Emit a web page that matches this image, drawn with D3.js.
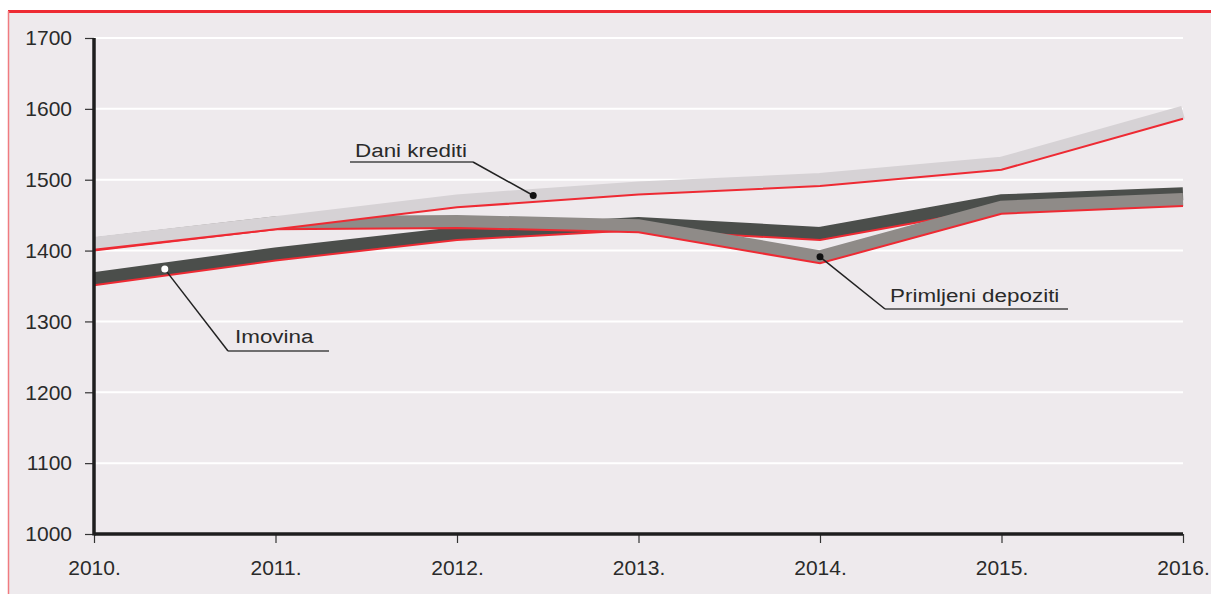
<!DOCTYPE html>
<html>
<head>
<meta charset="utf-8">
<script src="https://cdn.jsdelivr.net/npm/d3@7"></script>
<style>
  html, body { margin: 0; padding: 0; background: #ffffff; }
  svg { display: block; }
  text { font-family: "Liberation Sans", Arial, Helvetica, sans-serif; fill: #2a2a2a; }
</style>
</head>
<body>
<svg id="chart" width="1211" height="594"></svg>
<script>
// ---- data ----
const years = ["2010.", "2011.", "2012.", "2013.", "2014.", "2015.", "2016."];
const yTicks = [1000, 1100, 1200, 1300, 1400, 1500, 1600, 1700];
const imovina = [1351, 1386, 1415, 1429, 1415, 1461, 1471];
const primljeniDepoziti = [1400, 1430, 1432, 1426, 1382, 1452, 1463];
const daniKrediti = [1401, 1430, 1461, 1479, 1491, 1514, 1586];
const seriesNames = ["Imovina", "Primljeni depoziti", "Dani krediti"];

// ---- layout ----
const W = 1211, H = 594;
const margin = { left: 94, right: 28, top: 38, bottom: 60 };
const svg = d3.select("#chart");

// background panel with red frame
svg.append("rect").attr("x", 8).attr("y", 11).attr("width", W - 8).attr("height", H - 11).attr("fill", "#EEEAED");
svg.append("line").attr("x1", 8).attr("x2", W).attr("y1", 11.5).attr("y2", 11.5).attr("stroke", "#EE2A33").attr("stroke-width", 3);
svg.append("line").attr("x1", 8.5).attr("x2", 8.5).attr("y1", 11).attr("y2", H).attr("stroke", "#F07B80").attr("stroke-width", 1.5);

const x = d3.scalePoint().domain(years).range([margin.left, W - margin.right]);
const y = d3.scaleLinear().domain([1000, 1700]).range([H - margin.bottom, margin.top]);

// grid
svg.append("g").selectAll("line").data(yTicks.filter(d => d > 1000)).join("line")
  .attr("x1", margin.left).attr("x2", W - margin.right)
  .attr("y1", d => y(d)).attr("y2", d => y(d))
  .attr("stroke", "#ffffff").attr("stroke-width", 2);

// series bands
const bandW = 13;
const series = [
  { name: seriesNames[0], values: imovina, color: "#4B4E4B" },
  { name: seriesNames[1], values: primljeniDepoziti, color: "#8F8B88" },
  { name: seriesNames[2], values: daniKrediti, color: "#D6D2D5" }
];
const line = d3.line().x((d, i) => x(years[i])).y(d => y(d));
series.forEach(s => {
  const g = svg.append("g");
  g.append("path").datum(s.values)
    .attr("d", line)
    .attr("transform", `translate(0,${-bandW / 2})`)
    .attr("fill", "none").attr("stroke", s.color)
    .attr("stroke-width", bandW).attr("stroke-linejoin", "miter").attr("stroke-linecap", "butt");
  g.append("path").datum(s.values)
    .attr("d", line)
    .attr("fill", "none").attr("stroke", "#EE2A33").attr("stroke-width", 2);
});

// axes
const yAxis = d3.axisLeft(y).tickValues(yTicks).tickSize(9).tickFormat(d3.format("d"));
const gy = svg.append("g").attr("transform", `translate(${margin.left},0)`).call(yAxis);
gy.select(".domain").remove();
gy.selectAll(".tick line").attr("stroke", "#333").attr("stroke-width", 1.2);
gy.selectAll(".tick text").attr("x", -22).attr("font-size", 21).attr("fill", "#2a2a2a")
  .style("font-family", "'Liberation Sans', Arial, sans-serif");

const xAxis = d3.axisBottom(x).tickSize(9);
const gx = svg.append("g").attr("transform", `translate(0,${H - margin.bottom})`).call(xAxis);
gx.select(".domain").remove();
gx.selectAll(".tick line").attr("stroke", "#333").attr("stroke-width", 1.2);
gx.selectAll(".tick text").attr("y", 26).attr("dy", "0.71em").attr("font-size", 21).attr("fill", "#2a2a2a")
  .style("font-family", "'Liberation Sans', Arial, sans-serif");

svg.append("line").attr("x1", margin.left).attr("x2", margin.left)
  .attr("y1", y(1700)).attr("y2", y(1000) + 1.5).attr("stroke", "#1e1e1e").attr("stroke-width", 3.5);
svg.append("line").attr("x1", margin.left).attr("x2", W - margin.right)
  .attr("y1", y(1000)).attr("y2", y(1000)).attr("stroke", "#1e1e1e").attr("stroke-width", 3.5);

// annotations (anchor at fractional year index on each band)
function bandPoint(values, t) {
  const i = Math.min(Math.floor(t), values.length - 2);
  const f = t - i;
  const v = values[i] + f * (values[i + 1] - values[i]);
  const px = x(years[i]) + f * (x(years[i + 1]) - x(years[i]));
  return [px, y(v) - bandW / 2];
}
const notes = [
  { name: seriesNames[2], values: daniKrediti, t: 2.42, tx: 355, ty: 157, ux1: 350, ux2: 473, uy: 162, lx: 473, dot: "#111" },
  { name: seriesNames[0], values: imovina, t: 0.39, tx: 235, ty: 343, ux1: 228, ux2: 329, uy: 351, lx: 228, dot: "#ffffff" },
  { name: seriesNames[1], values: primljeniDepoziti, t: 4.0, tx: 890, ty: 302, ux1: 885, ux2: 1068, uy: 309, lx: 885, dot: "#111" }
];
notes.forEach(n => {
  const [px, py] = bandPoint(n.values, n.t);
  const g = svg.append("g");
  g.append("line").attr("x1", n.ux1).attr("x2", n.ux2).attr("y1", n.uy).attr("y2", n.uy)
    .attr("stroke", "#444").attr("stroke-width", 1.5);
  g.append("line").attr("x1", n.lx).attr("y1", n.uy).attr("x2", px).attr("y2", py)
    .attr("stroke", "#222").attr("stroke-width", 1.5);
  g.append("circle").attr("cx", px).attr("cy", py).attr("r", 3.5).attr("fill", n.dot);
  g.append("text").attr("transform", `translate(${n.tx},${n.ty}) scale(1.18,1)`)
    .attr("font-size", 19).text(n.name);
});
</script>
</body>
</html>
